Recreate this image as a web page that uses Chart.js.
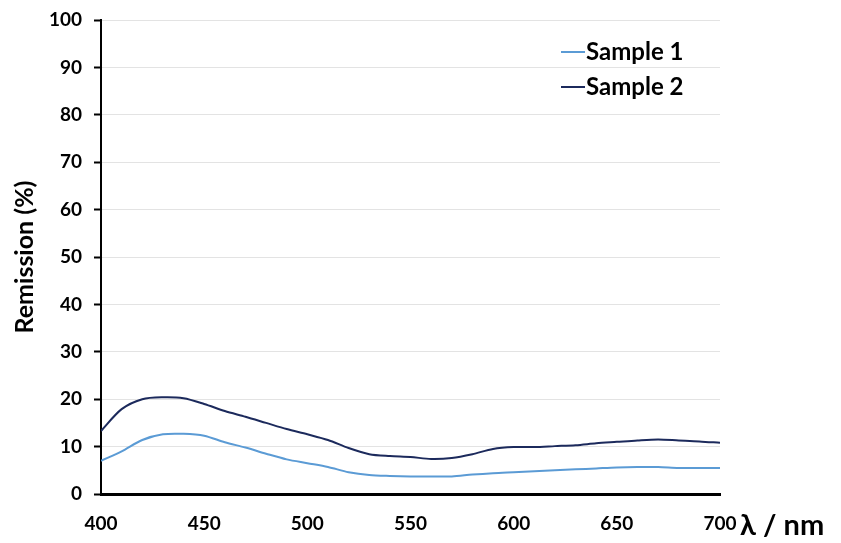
<!DOCTYPE html>
<html><head><meta charset="utf-8">
<script src="https://cdn.jsdelivr.net/npm/chart.js@4/dist/chart.umd.min.js"></script>
<style>html,body{margin:0;padding:0;background:#fff}#wrap{width:841px;height:543px}</style>
</head><body><div id="wrap"><canvas id="c" width="841" height="543"></canvas></div>
<script>
const wavelengths = [400,410,420,430,440,450,460,470,480,490,500,510,520,530,540,550,560,570,580,590,600,610,620,630,640,650,660,670,680,690,700];
const sample1 = [7.0,9.0,11.4,12.6,12.7,12.3,10.9,9.8,8.5,7.3,6.5,5.7,4.6,4.0,3.8,3.7,3.7,3.7,4.1,4.4,4.6,4.8,5.0,5.2,5.4,5.6,5.7,5.7,5.5,5.5,5.5];
const sample2 = [13.3,17.9,20.0,20.4,20.2,19.0,17.5,16.3,15.0,13.7,12.6,11.4,9.7,8.4,8.0,7.8,7.4,7.6,8.4,9.5,9.9,9.9,10.1,10.3,10.7,11.0,11.3,11.5,11.3,11.1,10.8];
const seriesNames = ['Sample 1','Sample 2'];
const xTicks = [400,450,500,550,600,650,700];
const yTicks = [0,10,20,30,40,50,60,70,80,90,100];
const colors = ['#5b9bd5','#1c2a5c'];
const FONT = 'Lato, "Open Sans", sans-serif';

const extras = {
  id:'extras',
  afterDraw(chart){
    const ctx = chart.ctx, ca = chart.chartArea;
    ctx.save();
    ctx.fillStyle = '#000';
    ctx.font = 'bold 29px ' + FONT;
    ctx.textAlign = 'left'; ctx.textBaseline = 'middle';
    ctx.fillText('λ / nm', ca.right + 20, 526);
    ctx.font = 'bold 24px ' + FONT;
    seriesNames.forEach((n,i)=>{
      const y = 52 + i*35;
      ctx.strokeStyle = colors[i]; ctx.lineWidth = 2;
      ctx.beginPath(); ctx.moveTo(561,y); ctx.lineTo(585,y); ctx.stroke();
      ctx.fillStyle = '#000';
      ctx.fillText(n, 586, y);
    });
    ctx.restore();
  }
};

new Chart(document.getElementById('c'), {
  type:'line',
  data:{
    datasets:[
      {label:seriesNames[0], data:wavelengths.map((x,i)=>({x, y:sample1[i]})), borderColor:colors[0], borderWidth:2, pointRadius:0, tension:0.3, fill:false},
      {label:seriesNames[1], data:wavelengths.map((x,i)=>({x, y:sample2[i]})), borderColor:colors[1], borderWidth:2, pointRadius:0, tension:0.3, fill:false}
    ]
  },
  options:{
    responsive:false, animation:false,
    layout:{padding:{left:0, top:20, right:121, bottom:0}},
    plugins:{legend:{display:false}, tooltip:{enabled:false}},
    scales:{
      x:{
        type:'linear', min:400, max:700,
        afterBuildTicks(s){ s.ticks = xTicks.map(v=>({value:v})); },
        afterFit(s){ s.height = 49; s.paddingLeft = 0; s.paddingRight = 0; },
        grid:{display:false, drawTicks:false},
        border:{display:true, color:'#000', width:3},
        ticks:{color:'#000', font:{family:FONT, size:19, weight:'bold'}, padding:18, maxRotation:0}
      },
      y:{
        min:0, max:100,
        afterBuildTicks(s){ s.ticks = yTicks.map(v=>({value:v})); },
        afterFit(s){ s.width = 101; s.paddingTop = 0; s.paddingBottom = 0; },
        grid:{color:'#e3e3e3', lineWidth:1, tickColor:'#000', tickLength:7, tickWidth:2},
        border:{display:true, color:'#000', width:2},
        ticks:{color:'#000', font:{family:FONT, size:19, weight:'bold'}, padding:12},
        title:{display:true, text:'Remission (%)', color:'#000', font:{family:FONT, size:25, weight:'bold'}, padding:{top:10,bottom:0}}
      }
    }
  },
  plugins:[extras]
});
</script></body></html>
